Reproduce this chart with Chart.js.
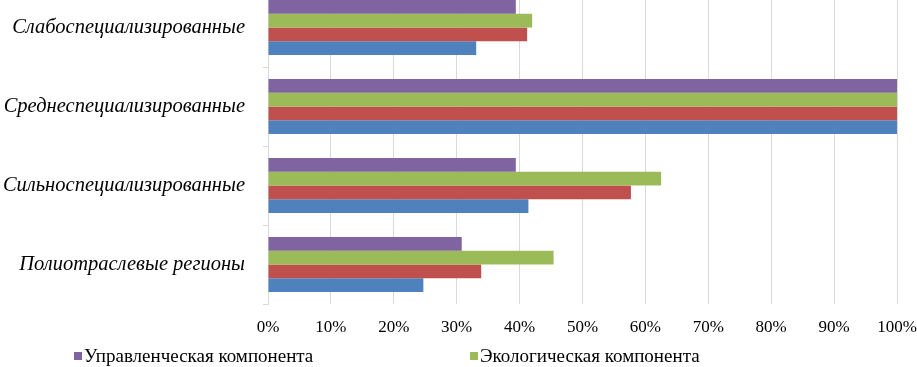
<!DOCTYPE html>
<html>
<head>
<meta charset="utf-8">
<script src="https://cdn.jsdelivr.net/npm/chart.js@4/dist/chart.umd.min.js"></script>
<style>
  html, body { margin: 0; padding: 0; background: #fff; overflow: hidden; }
  #wrap { position: relative; width: 917px; height: 367px; overflow: hidden; }
  #c { position: absolute; left: 0; top: -12px; }
</style>
</head>
<body>
<div id="wrap"><canvas id="c" width="917" height="379"></canvas></div>
<script>
// ---- data ----
const categories = ['Слабоспециализированные', 'Среднеспециализированные', 'Сильноспециализированные', 'Полиотраслевые регионы'];
const seriesNames = ['Управленческая компонента', 'Экологическая компонента', 'Ряд 3', 'Ряд 4'];
const managementValues = [39.4, 100, 39.4, 30.8];
const ecologyValues = [42.0, 100, 62.5, 45.4];
const thirdValues = [41.2, 100, 57.7, 33.9];
const fourthValues = [33.1, 100, 41.4, 24.7];
const xTickValues = [0, 10, 20, 30, 40, 50, 60, 70, 80, 90, 100];
const legendShown = [0, 1];

const FONT = '"Liberation Serif", "Times New Roman", serif';
const colors = ['#8064A2', '#9BBB59', '#C0504D', '#4F81BD'];

const legendPlugin = {
  id: 'fixedLegend',
  afterDraw(chart, args, opts) {
    const ctx = chart.ctx;
    ctx.save();
    ctx.font = '19px ' + FONT;
    ctx.textBaseline = 'middle';
    ctx.textAlign = 'left';
    legendShown.forEach((di, i) => {
      const ds = chart.data.datasets[di];
      const x = opts.xs[i];
      const y = opts.y;
      ctx.fillStyle = ds.backgroundColor;
      ctx.fillRect(x, y - 4, 8, 8);
      ctx.fillStyle = '#000';
      ctx.fillText(ds.label, x + 10, y + 1);
    });
    ctx.restore();
  }
};

new Chart(document.getElementById('c'), {
  type: 'bar',
  data: {
    labels: categories,
    datasets: [
      { label: seriesNames[0], data: managementValues, backgroundColor: colors[0] },
      { label: seriesNames[1], data: ecologyValues, backgroundColor: colors[1] },
      { label: seriesNames[2], data: thirdValues, backgroundColor: colors[2] },
      { label: seriesNames[3], data: fourthValues, backgroundColor: colors[3] }
    ]
  },
  options: {
    indexAxis: 'y',
    responsive: false,
    animation: false,
    layout: { padding: { left: 0, right: 0, top: 0, bottom: 0 } },
    datasets: { bar: { barPercentage: 1.0, categoryPercentage: 0.695 } },
    plugins: {
      legend: { display: false },
      tooltip: { enabled: false },
      fixedLegend: { xs: [74, 470], y: 368 }
    },
    scales: {
      x: {
        min: 0, max: 100,
        afterBuildTicks(scale) { scale.ticks = xTickValues.map(v => ({ value: v })); },
        afterFit(scale) { scale.height = 63; scale.paddingRight = 20; scale.paddingLeft = 0; },
        grid: { color: '#d9d9d9', lineWidth: 1, drawTicks: false },
        border: { display: false },
        ticks: {
          padding: 13,
          color: '#000',
          font: { family: FONT, size: 17 },
          callback: v => v + '%'
        }
      },
      y: {
        afterFit(scale) { scale.width = 268; scale.paddingTop = 0; scale.paddingBottom = 0; },
        grid: { color: '#d9d9d9', drawOnChartArea: false, drawTicks: true, tickLength: 5 },
        border: { display: true, color: '#d9d9d9' },
        ticks: {
          padding: 18,
          color: '#000',
          font: { family: FONT, size: 20.5, style: 'italic' }
        }
      }
    }
  },
  plugins: [legendPlugin]
});
</script>
</body>
</html>
